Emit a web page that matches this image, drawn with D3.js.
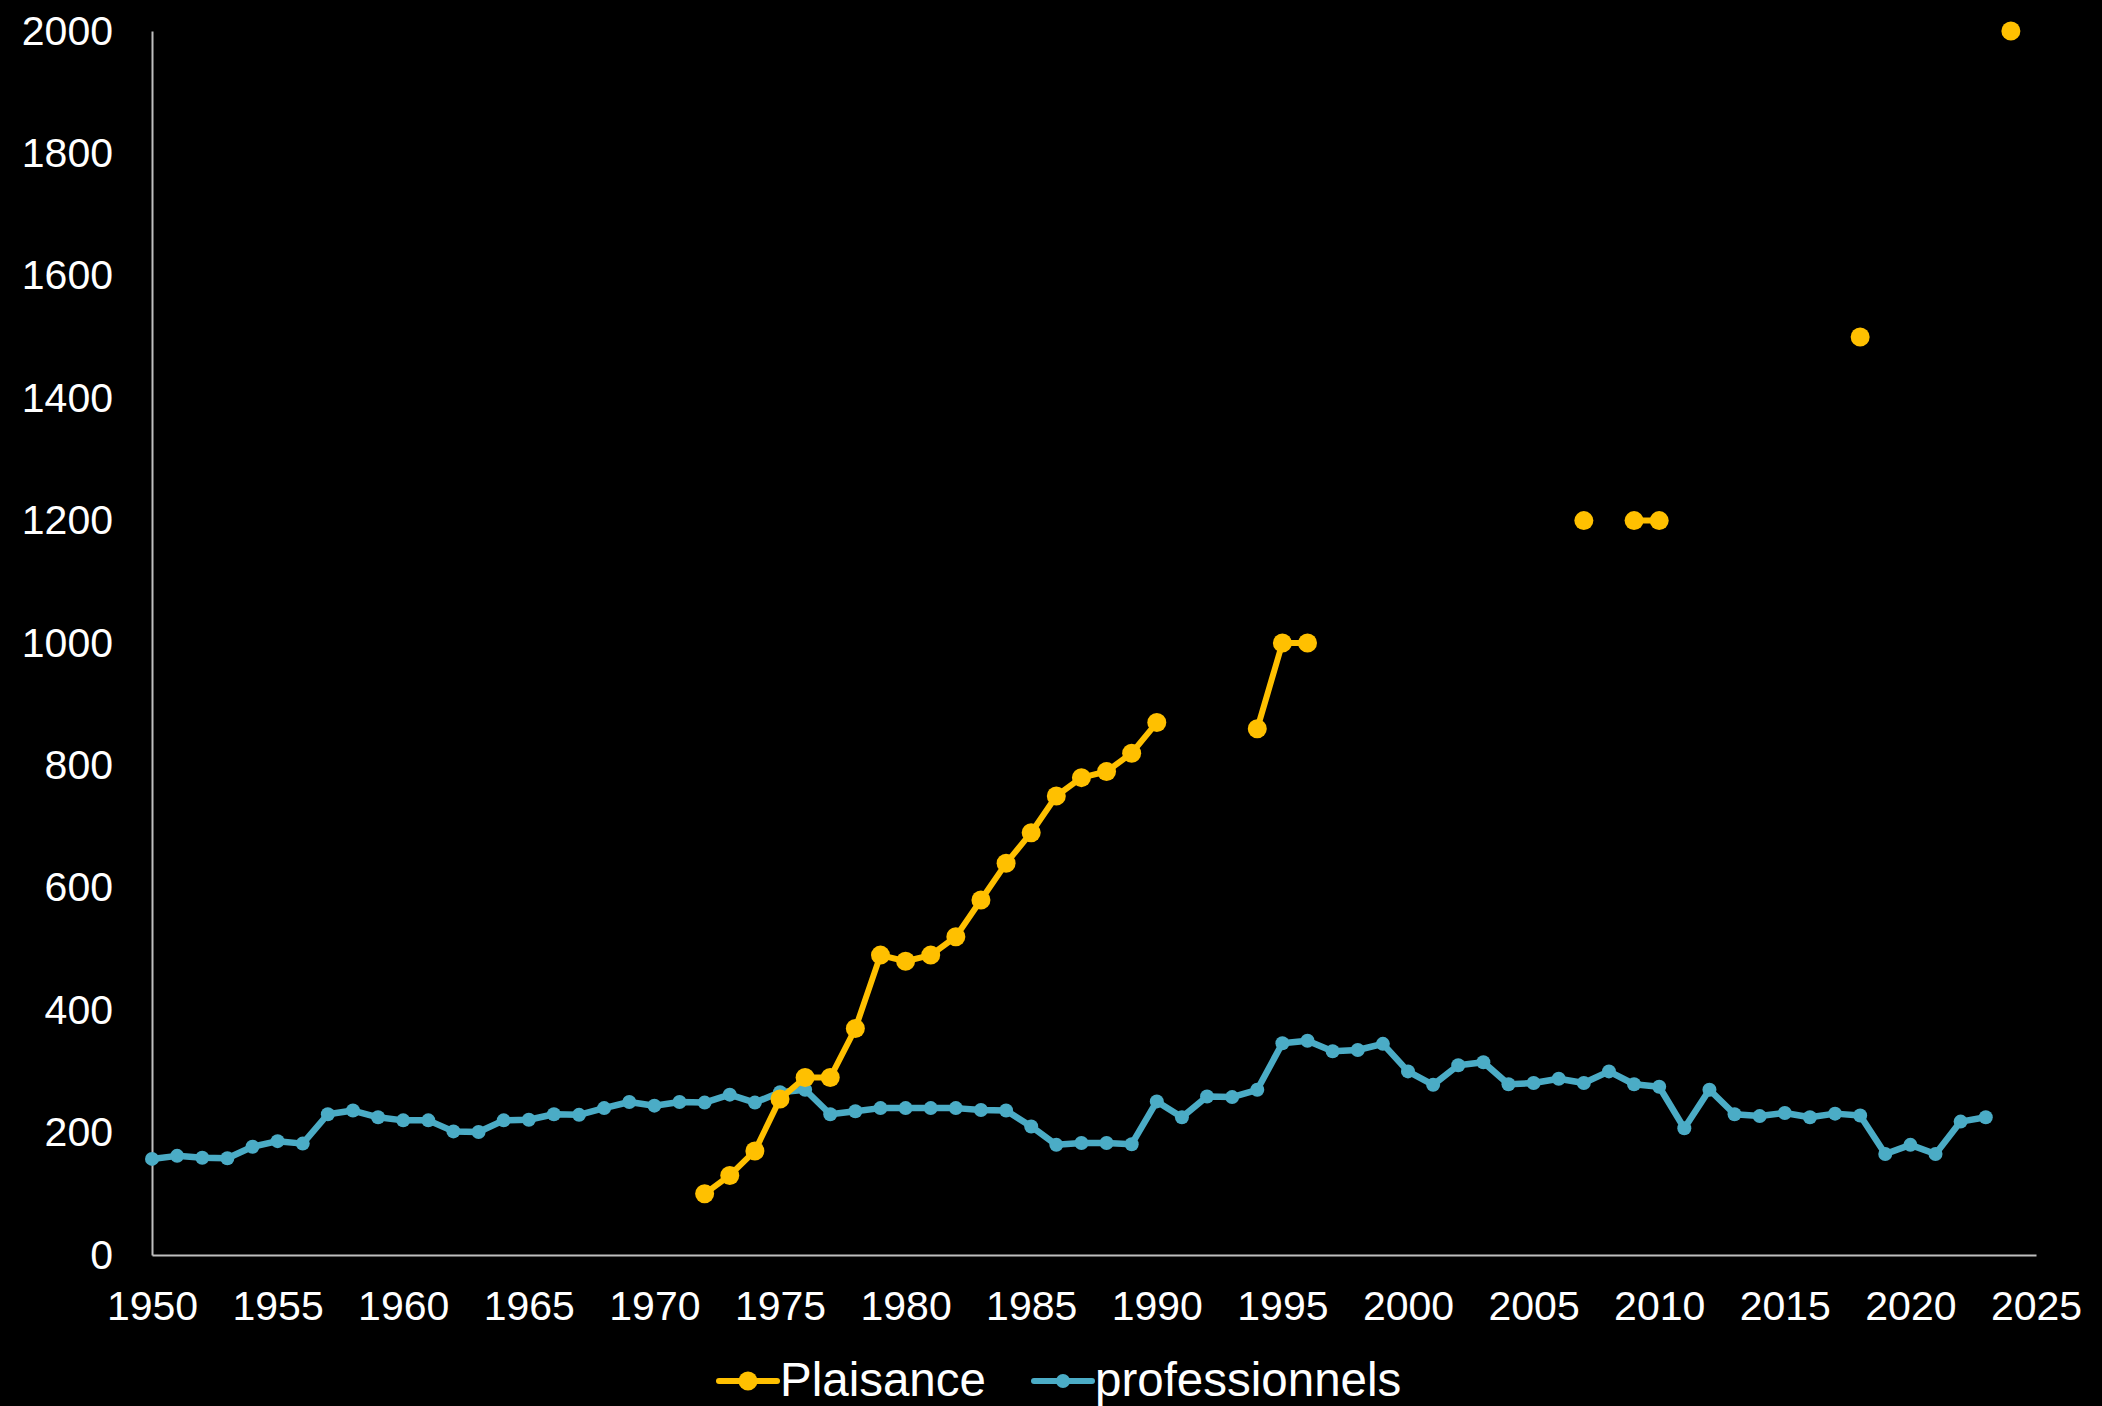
<!DOCTYPE html>
<html>
<head>
<meta charset="utf-8">
<script src="https://cdn.jsdelivr.net/npm/d3@7/dist/d3.min.js"></script>
<style>
  html, body { margin: 0; padding: 0; background: #000; overflow: hidden; }
  svg { display: block; }
  text { font-family: "Liberation Sans", Arial, sans-serif; fill: #fff; }
</style>
</head>
<body>
<svg id="chart" width="2102" height="1406"></svg>
<script>
const xTicks = [1950, 1955, 1960, 1965, 1970, 1975, 1980, 1985, 1990, 1995, 2000, 2005, 2010, 2015, 2020, 2025];
const yTicks = [0, 200, 400, 600, 800, 1000, 1200, 1400, 1600, 1800, 2000];

// Plaisance, by year (null = no data)
const plaisanceYears = [1972,1973,1974,1975,1976,1977,1978,1979,1980,1981,1982,1983,1984,1985,1986,1987,1988,1989,1990,
  1991,1992,1993,1994,1995,1996,1997,1998,1999,2000,2001,2002,2003,2004,2005,2006,2007,2008,2009,2010,
  2011,2012,2013,2014,2015,2016,2017,2018,2019,2020,2021,2022,2023,2024];
const plaisanceValues = [100,130,170,255,290,290,370,490,480,490,520,580,640,690,750,780,790,820,870,
  null,null,null,860,1000,1000,null,null,null,null,null,null,null,null,null,null,1200,null,1200,1200,
  null,null,null,null,null,null,null,1500,null,null,null,null,null,2000];

// professionnels, 1950..2023
const proYears = d3.range(1950, 2024);
const proValues = [157,162,159,158,177,186,182,230,236,225,220,220,202,201,220,221,230,229,240,250,
  244,250,249,262,249,266,270,230,235,240,240,240,240,237,236,210,180,183,183,181,
  251,225,259,258,270,346,350,333,335,345,300,278,310,315,279,281,288,281,300,279,
  275,207,270,230,227,232,225,231,228,165,180,165,218,225];

const seriesNames = ["Plaisance", "professionnels"];
const colors = ["#FFC000", "#4BACC6"];

const svg = d3.select("#chart");
svg.append("rect").attr("width", 2102).attr("height", 1406).attr("fill", "#000");

const x = d3.scaleLinear().domain([1950, 2025]).range([152, 2036]);
const y = d3.scaleLinear().domain([0, 2000]).range([1255, 31]);

// axes
const xAxis = svg.append("g").attr("transform", "translate(0,1255)")
  .call(d3.axisBottom(x).tickValues(xTicks).tickFormat(d3.format("d")).tickSize(0).tickPadding(36));
xAxis.select(".domain").attr("stroke", "#bfbfbf").attr("stroke-width", 2);
xAxis.selectAll("text").attr("font-size", 41).attr("fill", "#fff");

const yAxis = svg.append("g").attr("transform", "translate(152,0)")
  .call(d3.axisLeft(y).tickValues(yTicks).tickFormat(d3.format("d")).tickSize(0).tickPadding(39));
yAxis.select(".domain").attr("stroke", "#bfbfbf").attr("stroke-width", 2);
yAxis.selectAll("text").attr("font-size", 41).attr("fill", "#fff");

// series
const series = [
  { name: seriesNames[0], color: colors[0], r: 9.5, w: 6, data: plaisanceYears.map((yr, i) => ({ x: yr, v: plaisanceValues[i] })) },
  { name: seriesNames[1], color: colors[1], r: 7, w: 6.5, data: proYears.map((yr, i) => ({ x: yr, v: proValues[i] })) }
];

const line = d3.line()
  .defined(d => d.v != null)
  .x(d => x(d.x))
  .y(d => y(d.v));

[series[1], series[0]].forEach(s => {
  const g = svg.append("g");
  g.append("path").datum(s.data)
    .attr("d", line)
    .attr("fill", "none")
    .attr("stroke", s.color)
    .attr("stroke-width", s.w)
    .attr("stroke-linejoin", "round");
  g.selectAll("circle").data(s.data.filter(d => d.v != null)).join("circle")
    .attr("cx", d => x(d.x))
    .attr("cy", d => y(d.v))
    .attr("r", s.r)
    .attr("fill", s.color);
});

// legend
const legend = svg.append("g");
const legendItems = [
  { name: seriesNames[0], color: colors[0], x0: 719, r: 9.5 },
  { name: seriesNames[1], color: colors[1], x0: 1034, r: 7 }
];
legendItems.forEach(it => {
  legend.append("line")
    .attr("x1", it.x0).attr("x2", it.x0 + 58)
    .attr("y1", 1381).attr("y2", 1381)
    .attr("stroke", it.color).attr("stroke-width", 6).attr("stroke-linecap", "round");
  legend.append("circle").attr("cx", it.x0 + 29).attr("cy", 1381).attr("r", it.r).attr("fill", it.color);
  legend.append("text")
    .attr("x", it.x0 + 61).attr("y", 1396)
    .attr("font-size", 47.5)
    .text(it.name);
});
</script>
</body>
</html>
